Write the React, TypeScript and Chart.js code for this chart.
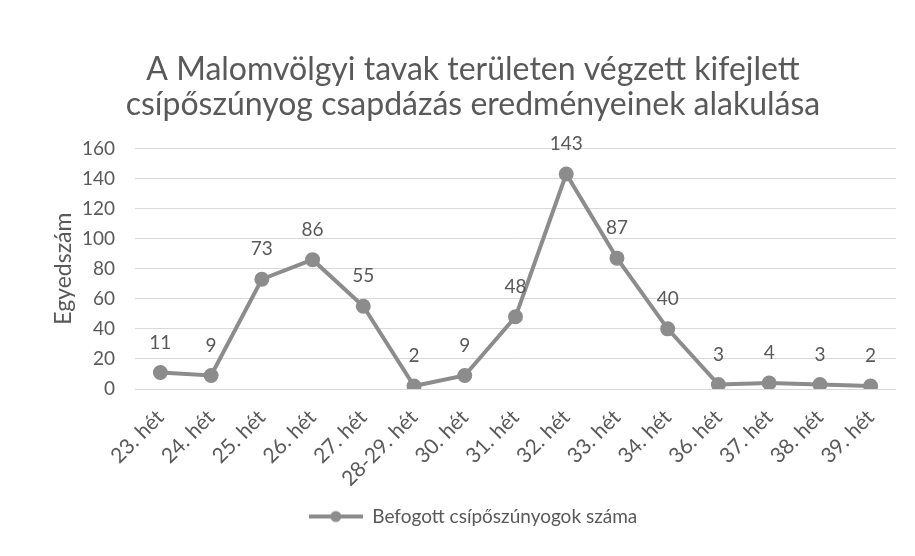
import React, { useEffect, useRef } from "react";
import { Chart, registerables } from "chart.js";

Chart.register(...registerables);

const titleLines = [
  "A Malomvölgyi tavak területen végzett kifejlett",
  "csípőszúnyog csapdázás eredményeinek alakulása",
];
const categories = [
  "23. hét", "24. hét", "25. hét", "26. hét", "27. hét", "28-29. hét", "30. hét",
  "31. hét", "32. hét", "33. hét", "34. hét", "36. hét", "37. hét", "38. hét", "39. hét",
];
const counts = [11, 9, 73, 86, 55, 2, 9, 48, 143, 87, 40, 3, 4, 3, 2];
const seriesName = "Befogott csípőszúnyogok száma";
const yTitle = "Egyedszám";
const yMin = 0;
const yMax = 160;
const yStep = 20;

const FONT = "Lato, 'Open Sans', sans-serif";
const TEXT = "#595959";
const LINE = "#8c8c8c";

function makeLegendIcon(): HTMLCanvasElement {
  const c = document.createElement("canvas");
  c.width = 54;
  c.height = 14;
  const g = c.getContext("2d")!;
  g.strokeStyle = LINE;
  g.lineWidth = 4;
  g.beginPath();
  g.moveTo(0, 7);
  g.lineTo(54, 7);
  g.stroke();
  g.fillStyle = LINE;
  g.beginPath();
  g.arc(27, 7, 5.5, 0, Math.PI * 2);
  g.fill();
  return c;
}

const dataLabels = {
  id: "dataLabels",
  afterDatasetsDraw(chart: any) {
    const ctx = chart.ctx;
    const meta = chart.getDatasetMeta(0);
    const ds = chart.data.datasets[0];
    ctx.save();
    ctx.font = `19px ${FONT}`;
    ctx.fillStyle = TEXT;
    ctx.textAlign = "center";
    ctx.textBaseline = "middle";
    meta.data.forEach((pt: any, i: number) => {
      ctx.fillText(String(ds.data[i]), pt.x, pt.y - 30);
    });
    ctx.restore();
  },
};

export default function App() {
  const ref = useRef<HTMLCanvasElement>(null);
  useEffect(() => {
    document.body.style.margin = "0";
    const icon = makeLegendIcon();
    const chart = new Chart(ref.current!, {
      type: "line",
      data: {
        labels: categories,
        datasets: [
          {
            label: seriesName,
            data: counts,
            borderColor: LINE,
            backgroundColor: LINE,
            borderWidth: 4,
            pointRadius: 5.5,
            pointBackgroundColor: LINE,
            pointBorderColor: LINE,
            pointStyle: "circle",
            tension: 0,
          },
        ],
      },
      options: {
        responsive: false,
        animation: false,
        layout: { autoPadding: false, padding: { top: 52, left: 50, right: 19, bottom: 20 } },
        plugins: {
          title: {
            display: true,
            text: titleLines,
            color: TEXT,
            font: { family: FONT, size: 32, weight: "normal", lineHeight: 1.1 },
            padding: { top: 0, bottom: 26 },
          },
          legend: {
            position: "bottom",
            labels: {
              color: TEXT,
              font: { family: FONT, size: 19 },
              usePointStyle: true,
              pointStyle: icon as any,
              pointStyleWidth: 54,
              padding: 4,
            },
          },
          tooltip: { enabled: false },
        },
        scales: {
          x: {
            offset: true,
            grid: { display: false, drawTicks: false },
            border: { display: false },
            ticks: {
              color: TEXT,
              font: { family: FONT, size: 21 },
              minRotation: 45,
              maxRotation: 45,
              padding: 16,
              autoSkip: false,
            },
            afterFit: (scale: any) => {
              scale.height = 114;
            },
          },
          y: {
            min: yMin,
            max: yMax,
            grid: { color: "#d9d9d9", drawTicks: false, lineWidth: 1 },
            border: { display: false },
            ticks: {
              stepSize: yStep,
              color: TEXT,
              font: { family: FONT, size: 19 },
              padding: 20,
            },
            title: {
              display: true,
              text: yTitle,
              color: TEXT,
              font: { family: FONT, size: 23 },
              padding: { top: 0, bottom: 6 },
            },
            afterFit: (scale: any) => {
              scale.width = 85;
            },
          },
        },
      },
      plugins: [dataLabels],
    });
    return () => chart.destroy();
  }, []);
  return <canvas ref={ref} width={915} height={556} style={{ display: "block" }} />;
}
